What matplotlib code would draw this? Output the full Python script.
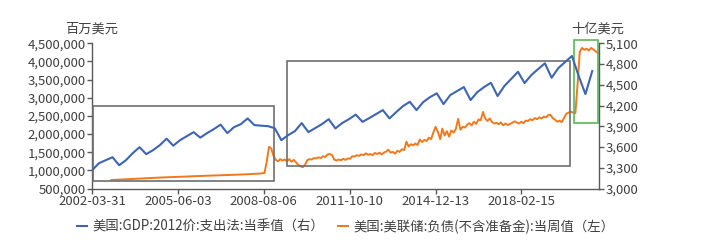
import matplotlib
matplotlib.use('Agg')
import matplotlib.pyplot as plt
import matplotlib.dates as mdates
from matplotlib.patches import Rectangle
from matplotlib.ticker import FuncFormatter
import numpy as np
import pandas as pd

plt.rcParams['font.family'] = ['Noto Sans CJK SC', 'DejaVu Sans']

# GDP, 2012 prices, quarterly (billion USD) -> right axis
gdp_dates = pd.date_range('2002-03-31', '2020-09-30', freq='QE')
gdp = [3265, 3366, 3410, 3453,
       3337, 3410, 3511, 3598,
       3497, 3555, 3627, 3721,
       3620, 3699, 3757, 3815,
       3736, 3801, 3859, 3924,
       3801, 3888, 3931, 4014,
       3917, 3909, 3902, 3873,
       3699, 3772, 3830, 3946,
       3816, 3873, 3931, 4003,
       3869, 3946, 4003, 4069,
       3964, 4018, 4076, 4134,
       4014, 4105, 4192, 4254,
       4134, 4250, 4322, 4376,
       4221, 4351, 4409, 4467,
       4279, 4394, 4467, 4529,
       4337, 4481, 4583, 4688,
       4525, 4641, 4727, 4810,
       4601, 4742, 4829, 4916,
       4626, 4365, 4698]

# Fed liabilities excl. reserves (thousand of million USD, read monthly) -> left axis
fed_dates = pd.date_range('2002-12-01', '2020-12-01', freq='MS') + pd.Timedelta(days=14)
fed_k = [735,
         740, 742, 745, 748, 752, 755, 758, 760, 763, 766, 770, 775,
         778, 780, 783, 786, 790, 793, 796, 798, 800, 803, 806, 810,
         812, 814, 816, 818, 820, 823, 825, 828, 830, 832, 836, 840,
         842, 843, 845, 848, 850, 853, 855, 857, 858, 860, 863, 866,
         868, 870, 872, 874, 876, 878, 880, 882, 884, 887, 890, 893,
         895, 897, 900, 905, 910, 915, 920, 930, 1250, 1650, 1600, 1400,
         1290, 1250, 1310, 1270, 1300, 1250, 1310, 1240, 1290, 1220, 1150, 1110,
         1090, 1160, 1280, 1310, 1300, 1340, 1330, 1360, 1340, 1390, 1370, 1440,
         1450, 1420, 1300, 1270, 1300, 1280, 1320, 1290, 1330, 1320, 1390, 1380,
         1420, 1400, 1440, 1420, 1470, 1430, 1450, 1420, 1480, 1450, 1490, 1440,
         1490, 1520, 1570, 1490, 1510, 1460, 1540, 1510, 1580, 1560, 1790, 1660,
         1720, 1690, 1740, 1700, 1850, 1780, 1840, 1810, 1900, 1860, 2050, 2200,
         2050, 1860, 2150, 1960, 2080, 1930, 2100, 2040, 2150, 2420, 2120, 2200,
         2180, 2260, 2300, 2240, 2340, 2280, 2400, 2380, 2610, 2430, 2360, 2430,
         2330, 2290, 2310, 2270, 2320, 2240, 2290, 2250, 2280, 2310, 2350, 2320,
         2290, 2340, 2300, 2370, 2360, 2410, 2380, 2440, 2410, 2460, 2430, 2480,
         2460, 2520, 2530, 2440, 2400, 2340, 2370, 2330, 2440, 2560, 2590, 2620,
         2590, 2570, 3350, 4270, 4370, 4320, 4350, 4300, 4370, 4330, 4280, 4230]
fed = np.array(fed_k) * 1000

x_ticks = ['2002-03-31', '2005-06-03', '2008-08-06', '2011-10-10', '2014-12-13', '2018-02-15']
left_ticks = np.arange(500000, 4500001, 500000)
right_ticks = np.arange(3000, 5101, 300)

blue = '#3E64B4'
orange = '#F2781C'
txt = '#404040'
axc = '#595959'
fs = 9.5

fig = plt.figure(figsize=(7.2, 2.43), dpi=100)
ax = fig.add_axes([0.128, 0.224, 0.704, 0.598])
ax2 = ax.twinx()

l2, = ax.plot(fed_dates, fed, color=orange, lw=1.4)
l1, = ax2.plot(gdp_dates, gdp, color=blue, lw=1.5, solid_joinstyle='round')

ax.set_xlim(pd.Timestamp('2002-03-31'), pd.Timestamp('2020-12-31'))
ax.set_ylim(500000, 4500000)
ax2.set_ylim(3000, 5100)
ax.set_yticks(left_ticks)
ax2.set_yticks(right_ticks)
ax.yaxis.set_major_formatter(FuncFormatter(lambda v, p: f'{int(v):,}'))
ax2.yaxis.set_major_formatter(FuncFormatter(lambda v, p: f'{int(v):,}'))
ax.set_xticks(pd.to_datetime(x_ticks))
ax.set_xticklabels(x_ticks)

for a in (ax, ax2):
    a.spines['top'].set_visible(False)
    for s in ('left', 'right', 'bottom'):
        a.spines[s].set_color(axc)
        a.spines[s].set_linewidth(1.0)
    a.tick_params(colors=axc, labelcolor=txt, labelsize=fs, length=3.5, width=1.0, pad=1)
ax.spines['right'].set_visible(False)
ax2.spines['left'].set_visible(False)
ax2.spines['bottom'].set_visible(False)


# highlight boxes
def box(a, x0, x1, y0, y1, color):
    x0 = mdates.date2num(pd.Timestamp(x0))
    x1 = mdates.date2num(pd.Timestamp(x1))
    a.add_patch(Rectangle((x0, y0), x1 - x0, y1 - y0, fill=False, edgecolor=color,
                          lw=1.2, clip_on=False, zorder=5))


box(ax, '2002-04-08', '2008-12-25', 715000, 2776000, '#6E6E6E')
box(ax, '2009-06-20', '2019-12-01', 1120000, 3998000, '#6E6E6E')
box(ax, '2020-01-23', '2020-12-13', 2300000, 4577000, '#5BB85A')

fig.text(0.127, 0.88, '百万美元', ha='center', va='center', fontsize=fs, color=txt)
fig.text(0.830, 0.88, '十亿美元', ha='center', va='center', fontsize=fs, color=txt)

fig.legend([l1, l2], ['美国:GDP:2012价:支出法:当季值（右）', '美国:美联储:负债(不含准备金):当周值（左）'],
           loc='center', bbox_to_anchor=(0.48, 0.067), ncol=2, frameon=False,
           fontsize=9.6, handlelength=0.8, handletextpad=0.4, columnspacing=1.0,
           labelcolor=txt)

fig.savefig('out.png', dpi=100)
